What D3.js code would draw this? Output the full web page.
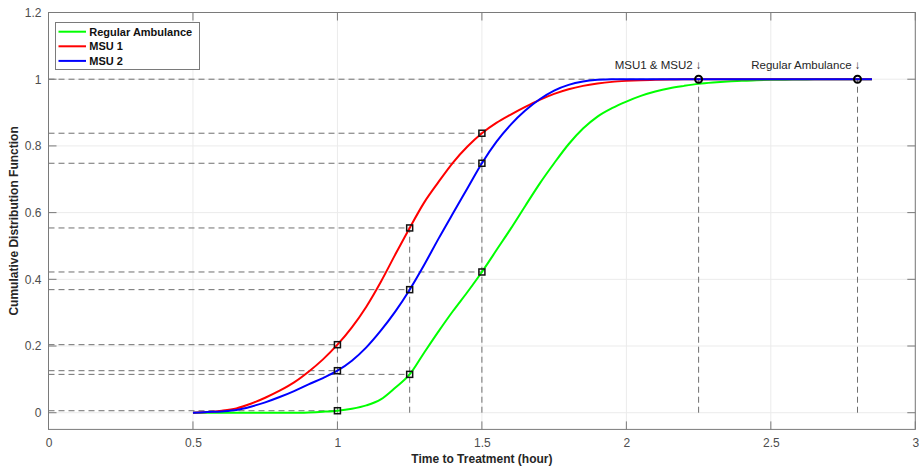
<!DOCTYPE html>
<html>
<head>
<meta charset="utf-8">
<script src="https://cdn.jsdelivr.net/npm/d3@7"></script>
<style>
  html, body { margin: 0; padding: 0; background: #fff; }
  svg { display: block; font-family: "Liberation Sans", Arial, sans-serif; }
</style>
</head>
<body>
<svg id="chart" width="919" height="467"></svg>
<script>
// ---- data ----
const xs = [0.50,0.55,0.60,0.65,0.70,0.75,0.80,0.85,0.90,0.95,
            1.00,1.05,1.10,1.15,1.20,1.25,1.30,1.35,1.40,1.45,
            1.50,1.55,1.60,1.65,1.70,1.75,1.80,1.85,1.90,1.95,
            2.00,2.05,2.10,2.15,2.20,2.25,2.30,2.35,2.40,2.45,
            2.50,2.55,2.60,2.65,2.70,2.75,2.80,2.85];
const regularAmbulance = [0,0,0,0,0,0,0,0,0.001,0.003,
            0.006,0.012,0.022,0.040,0.075,0.115,0.180,0.244,0.305,0.362,
            0.422,0.487,0.552,0.620,0.687,0.748,0.805,0.852,0.888,0.913,
            0.933,0.950,0.963,0.973,0.980,0.986,0.990,0.993,0.995,0.997,
            0.998,0.9985,0.999,0.9995,1,1,1,1];
const msu1 = [0,0.002,0.006,0.013,0.027,0.045,0.066,0.091,0.123,0.160,
            0.204,0.256,0.318,0.392,0.474,0.554,0.630,0.692,0.750,0.798,
            0.838,0.869,0.894,0.917,0.938,0.956,0.970,0.980,0.987,0.992,
            0.995,0.997,0.998,0.999,0.9995,1,1,1,1,1,
            1,1,1,1,1,1,1,1];
const msu2 = [0,0.002,0.004,0.008,0.018,0.031,0.047,0.065,0.085,0.104,
            0.126,0.156,0.196,0.246,0.303,0.369,0.443,0.522,0.598,0.673,
            0.748,0.812,0.864,0.906,0.940,0.966,0.983,0.993,0.998,1,
            1,1,1,1,1,1,1,1,1,1,
            1,1,1,1,1,1,1,1];
const seriesNames = ["Regular Ambulance", "MSU 1", "MSU 2"];
const seriesColors = ["#00ff00", "#ff0000", "#0000ff"];
const markerX = [1.00, 1.25, 1.50];
const markerRegular = [0.006, 0.115, 0.422];
const markerMsu1 = [0.204, 0.554, 0.838];
const markerMsu2 = [0.126, 0.369, 0.748];
const circleX = [2.25, 2.80];
const circleY = [1, 1];
const circleLabels = ["MSU1 & MSU2 \u2193", "Regular Ambulance \u2193"];
const xTicks = [0, 0.5, 1, 1.5, 2, 2.5, 3];
const yTicks = [0, 0.2, 0.4, 0.6, 0.8, 1, 1.2];
const xTitle = "Time to Treatment (hour)";
const yTitle = "Cumulative Distribution Function";

// ---- layout ----
const svg = d3.select("#chart");
const L = 48.5, R = 915.3, T = 12.5, B = 429.4;
const x = d3.scaleLinear().domain([0, 3]).range([L, R]);
const y = d3.scaleLinear().domain([-0.05, 1.2]).range([B, T]);
const axisCol = "#7a7a7a";
const tickTxt = "#4d4d4d";

// grid
const g = svg.append("g");
g.selectAll(".gx").data(xTicks).enter().append("line")
  .attr("x1", d => x(d)).attr("x2", d => x(d)).attr("y1", T).attr("y2", B)
  .attr("stroke", "#ebebeb").attr("stroke-width", 1);
g.selectAll(".gy").data(yTicks).enter().append("line")
  .attr("x1", L).attr("x2", R).attr("y1", d => y(d)).attr("y2", d => y(d))
  .attr("stroke", "#ebebeb").attr("stroke-width", 1);

// dashed reference lines
const dashCol = "#707070";
const dash = "6,4";
const hRefs = [];
[markerRegular, markerMsu1, markerMsu2].forEach(arr => arr.forEach((v, i) => hRefs.push([markerX[i], v])));
circleX.forEach((cx, i) => hRefs.push([cx, circleY[i]]));
const dl = svg.append("g").attr("stroke", dashCol).attr("stroke-width", 1).attr("stroke-dasharray", dash).attr("fill", "none");
// horizontal: from left axis to each point (the y=1 line only once, to the farthest point)
const hMap = new Map();
hRefs.forEach(([px, py]) => { hMap.set(py, Math.max(hMap.get(py) || 0, px)); });
hMap.forEach((px, py) => {
  dl.append("line").attr("x1", x(0)).attr("x2", x(px)).attr("y1", y(py)).attr("y2", y(py));
});
// vertical: one per x, from the highest point down to y=0
const vMap = new Map();
hRefs.forEach(([px, py]) => { vMap.set(px, Math.max(vMap.get(px) || 0, py)); });
vMap.forEach((py, px) => {
  dl.append("line").attr("x1", x(px)).attr("x2", x(px)).attr("y1", y(0)).attr("y2", y(py));
});

// curves
const allSeries = [regularAmbulance, msu1, msu2];
const line = d3.line().x((d, i) => x(xs[i])).y(d => y(d)).curve(d3.curveMonotoneX);
allSeries.forEach((s, k) => {
  svg.append("path").datum(s).attr("d", line)
    .attr("fill", "none").attr("stroke", seriesColors[k]).attr("stroke-width", 2)
    .attr("stroke-linejoin", "round");
});

// square markers
const mk = svg.append("g");
[markerRegular, markerMsu1, markerMsu2].forEach(arr => {
  mk.selectAll(null).data(arr).enter().append("rect")
    .attr("x", (d, i) => x(markerX[i]) - 3).attr("y", d => y(d) - 3)
    .attr("width", 6).attr("height", 6)
    .attr("fill", "none").attr("stroke", "#111").attr("stroke-width", 1.5);
});

// circles + labels
svg.selectAll(".circ").data(circleX).enter().append("circle")
  .attr("cx", d => x(d)).attr("cy", (d, i) => y(circleY[i])).attr("r", 3.5)
  .attr("fill", "none").attr("stroke", "#000").attr("stroke-width", 2);
svg.selectAll(".clab").data(circleLabels).enter().append("text")
  .attr("x", (d, i) => x(circleX[i]) + 3).attr("y", (d, i) => y(circleY[i]) - 10)
  .attr("text-anchor", "end").attr("font-size", "11.5px").attr("fill", "#262626")
  .text(d => d);

// axes box
svg.append("rect").attr("x", L).attr("y", T).attr("width", R - L).attr("height", B - T)
  .attr("fill", "none").attr("stroke", axisCol).attr("stroke-width", 1);

const ax = svg.append("g").attr("stroke", axisCol).attr("stroke-width", 1);
xTicks.forEach(t => {
  ax.append("line").attr("x1", x(t)).attr("x2", x(t)).attr("y1", B).attr("y2", B - 8);
  ax.append("line").attr("x1", x(t)).attr("x2", x(t)).attr("y1", T).attr("y2", T + 8);
});
yTicks.forEach(t => {
  ax.append("line").attr("x1", L).attr("x2", L + 8).attr("y1", y(t)).attr("y2", y(t));
  ax.append("line").attr("x1", R).attr("x2", R - 8).attr("y1", y(t)).attr("y2", y(t));
});

// tick labels via d3 axes (domain/ticks hidden, only text)
const xAxis = d3.axisBottom(x).tickValues(xTicks).tickSize(0).tickPadding(9).tickFormat(d3.format("~g"));
const xg = svg.append("g").attr("transform", `translate(0,${B})`).call(xAxis);
const yAxis = d3.axisLeft(y).tickValues(yTicks).tickSize(0).tickPadding(7).tickFormat(d3.format("~g"));
const yg = svg.append("g").attr("transform", `translate(${L},0)`).call(yAxis);
[xg, yg].forEach(a => {
  a.select(".domain").remove();
  a.selectAll("text").attr("font-size", "12px").attr("fill", tickTxt)
    .attr("font-family", '"Liberation Sans", Arial, sans-serif');
});

// titles
svg.append("text").attr("x", (L + R) / 2).attr("y", 463)
  .attr("text-anchor", "middle").attr("font-size", "12px").attr("font-weight", "bold")
  .attr("fill", "#262626").text(xTitle);
svg.append("text").attr("transform", `translate(18,${(T + B) / 2}) rotate(-90)`)
  .attr("text-anchor", "middle").attr("font-size", "12px").attr("font-weight", "bold")
  .attr("fill", "#262626").text(yTitle);

// legend
const lg = svg.append("g");
lg.append("rect").attr("x", 55.5).attr("y", 22.5).attr("width", 144).attr("height", 47)
  .attr("fill", "#fff").attr("stroke", "#7a7a7a").attr("stroke-width", 1);
seriesNames.forEach((n, i) => {
  const cy = 31.7 + i * 14.6;
  lg.append("line").attr("x1", 58.5).attr("x2", 86).attr("y1", cy).attr("y2", cy)
    .attr("stroke", seriesColors[i]).attr("stroke-width", 2);
  lg.append("text").attr("x", 89.3).attr("y", cy + 4).attr("font-size", "11px")
    .attr("font-weight", "bold").attr("fill", "#111").text(n);
});
</script>
</body>
</html>
